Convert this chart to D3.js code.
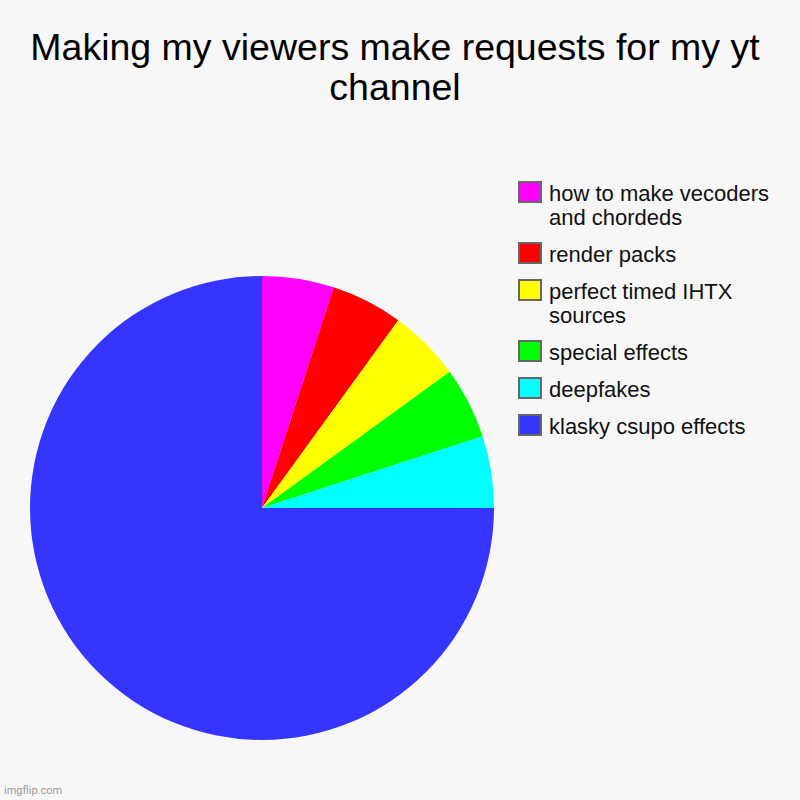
<!DOCTYPE html>
<html>
<head>
<meta charset="utf-8">
<script src="https://cdn.jsdelivr.net/npm/d3@7"></script>
<style>
  html, body { margin: 0; padding: 0; background: #f7f7f7; }
  svg { display: block; font-family: "Liberation Sans", Arial, sans-serif; }
</style>
</head>
<body>
<script>
// chart data, in the order the slices go clockwise from 12 o'clock
const categories = [
  "how to make vecoders and chordeds",
  "render packs",
  "perfect timed IHTX sources",
  "special effects",
  "deepfakes",
  "klasky csupo effects"
];
const values = [5, 5, 5, 5, 5, 75];
const colors = ["#ff00ff", "#ff0000", "#ffff00", "#00ff00", "#00ffff", "#3535ff"];
const titleLines = ["Making my viewers make requests for my yt", "channel"];

const width = 800, height = 800;
const cx = 262, cy = 508, radius = 232;

const data = categories.map((c, i) => ({ name: c, value: values[i] }));
const color = d3.scaleOrdinal(categories, colors);

const svg = d3.select("body").append("svg")
    .attr("width", width)
    .attr("height", height);

svg.append("rect")
    .attr("width", width)
    .attr("height", height)
    .attr("fill", "#f7f7f7");

// title
svg.append("text")
    .attr("text-anchor", "middle")
    .attr("font-size", 37.5)
    .attr("fill", "#000")
  .selectAll("tspan")
  .data(titleLines)
  .join("tspan")
    .attr("x", width / 2 - 5)
    .attr("y", (d, i) => 60 + i * 40)
    .text(d => d);

// pie
const pie = d3.pie().sort(null).value(d => d.value);
const arc = d3.arc().innerRadius(0).outerRadius(radius);

svg.append("g")
    .attr("transform", `translate(${cx},${cy})`)
  .selectAll("path")
  .data(pie(data))
  .join("path")
    .attr("d", arc)
    .attr("fill", d => color(d.data.name));

// legend
const legend = svg.append("g");
const lx = 519, textX = 549, maxW = 232, lineH = 24;
let y = 182;

data.forEach(d => {
  const g = legend.append("g");
  g.append("rect")
      .attr("x", lx)
      .attr("y", y)
      .attr("width", 22)
      .attr("height", 20)
      .attr("fill", color(d.name))
      .attr("stroke", "#666")
      .attr("stroke-width", 2);

  const text = g.append("text")
      .attr("font-size", 22)
      .attr("fill", "#111");

  // wrap words
  const words = d.name.split(/\s+/);
  let line = [], lines = 0;
  let tspan = text.append("tspan").attr("x", textX).attr("y", y + 19);
  words.forEach(w => {
    line.push(w);
    tspan.text(line.join(" "));
    if (tspan.node().getComputedTextLength() > maxW && line.length > 1) {
      line.pop();
      tspan.text(line.join(" "));
      line = [w];
      lines++;
      tspan = text.append("tspan")
          .attr("x", textX)
          .attr("y", y + 19 + lines * lineH)
          .text(w);
    }
  });
  y += 37 + lines * lineH;
});

// watermark
svg.append("text")
    .attr("x", 4)
    .attr("y", 794)
    .attr("font-size", 11)
    .attr("fill", "#9a9a9a")
    .attr("font-family", "Roboto, sans-serif")
    .text("imgflip.com");
</script>
</body>
</html>
